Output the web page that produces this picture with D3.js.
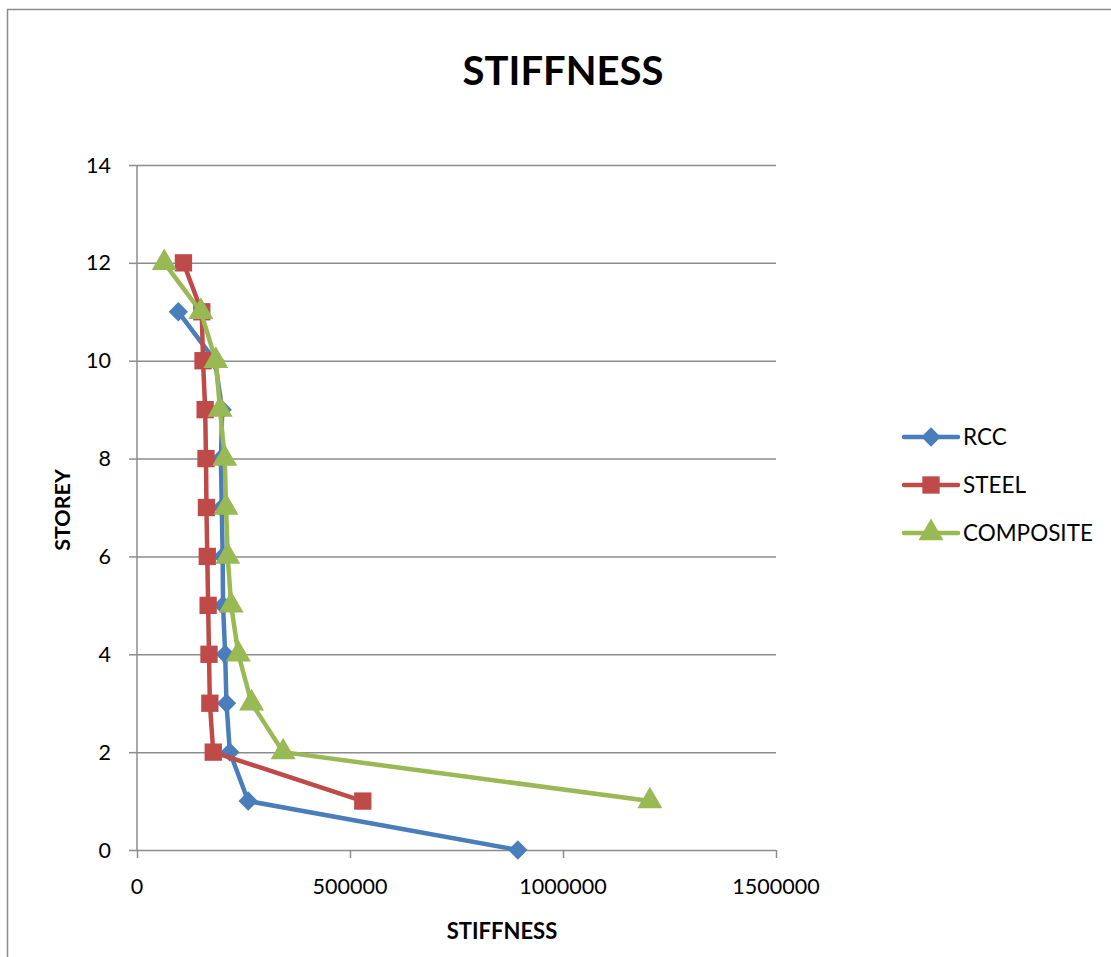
<!DOCTYPE html>
<html>
<head>
  <meta charset='utf-8'>
  <style>
  body { margin: 0; background: #fff; }
  text { font-family: Lato, 'Open Sans', sans-serif; fill: #000; }
  .grid line { stroke: #8c8c8c; stroke-width: 1.5px; }
  .line { fill: none; stroke-width: 4.5px; stroke-linejoin: round; }
  </style>
</head>
<body>
<script src='https://d3js.org/d3.v7.min.js'></script>
<script>

var SERIES = ['RCC', 'STEEL', 'COMPOSITE'];
var COLORS = ['#4a7ebb', '#be4b48', '#98b954'];

var rccStorey = [0, 1, 2, 3, 4, 5, 6, 7, 8, 9, 10, 11];
var rccStiff = [894000, 261000, 218000, 210000, 207000, 202000, 201000, 199000, 197000, 200000, 183000, 97000];

var steelStorey = [1, 2, 3, 4, 5, 6, 7, 8, 9, 10, 11, 12];
var steelStiff = [530000, 179000, 171000, 169000, 167000, 165000, 163000, 162000, 160000, 155000, 152000, 109000];

var compStorey = [1, 2, 3, 4, 5, 6, 7, 8, 9, 10, 11, 12];
var compStiff = [1204000, 343000, 269000, 238000, 221000, 213000, 209000, 206000, 195000, 185000, 150000, 64000];

var xTicks = [0, 500000, 1000000, 1500000];
var yTicks = [0, 2, 4, 6, 8, 10, 12, 14];

var SVG_WIDTH = 1111;
var SVG_HEIGHT = 957;

var svg = d3.select('body').append('svg')
    .attr('width', SVG_WIDTH)
    .attr('height', SVG_HEIGHT);

svg.append('rect')
    .attr('x', 7.5).attr('y', 9.5)
    .attr('width', 1200).attr('height', 1000)
    .attr('fill', '#fff')
    .attr('stroke', '#8c8c8c')
    .attr('stroke-width', 1.5);

var margin = {top: 165, left: 137},
    width = 639,
    height = 685;

var g = svg.append('g').attr('transform', 'translate(' + margin.left + ',' + margin.top + ')');

var x = d3.scaleLinear().domain([0, 1500000]).range([0, width]);
var y = d3.scaleLinear().domain([0, 14]).range([height, 0]);

// horizontal gridlines with small ticks on the left
g.append('g')
    .attr('class', 'grid')
    .call(d3.axisLeft(y).tickValues(yTicks).tickSize(-width).tickFormat(''))
    .call(function(a) { a.select('.domain').remove(); });

g.append('g')
    .attr('class', 'grid')
    .call(d3.axisLeft(y).tickValues(yTicks).tickSize(8).tickFormat(''))
    .call(function(a) { a.select('.domain').remove(); });

g.append('line')
    .attr('x1', 0).attr('x2', 0).attr('y1', 0).attr('y2', height)
    .attr('stroke', '#8c8c8c').attr('stroke-width', 1.5);

g.append('g')
    .attr('class', 'grid')
    .attr('transform', 'translate(0,' + height + ')')
    .call(d3.axisBottom(x).tickValues(xTicks).tickSize(8).tickFormat(''))
    .call(function(a) { a.select('.domain').remove(); });

g.selectAll('.ylab')
    .data(yTicks)
  .enter().append('text')
    .attr('class', 'ylab')
    .attr('x', -26)
    .attr('y', function(d) { return y(d); })
    .attr('dy', '0.35em')
    .attr('text-anchor', 'end')
    .style('font-size', '21.5px')
    .text(function(d) { return d; });

g.selectAll('.xlab')
    .data(xTicks)
  .enter().append('text')
    .attr('class', 'xlab')
    .attr('x', function(d) { return x(d); })
    .attr('y', height + 44)
    .attr('text-anchor', 'middle')
    .style('font-size', '21.5px')
    .text(function(d) { return d; });

svg.append('text')
    .attr('x', 563).attr('y', 85)
    .attr('text-anchor', 'middle')
    .style('font-size', '40px').style('font-weight', 'bold')
    .text('STIFFNESS');

svg.append('text')
    .attr('x', 502).attr('y', 939)
    .attr('text-anchor', 'middle')
    .style('font-size', '22px').style('font-weight', 'bold')
    .text('STIFFNESS');

svg.append('text')
    .attr('transform', 'translate(70,510) rotate(-90)')
    .attr('text-anchor', 'middle')
    .style('font-size', '21.5px').style('font-weight', 'bold')
    .text('STOREY');

var data = [
  d3.zip(rccStiff, rccStorey),
  d3.zip(steelStiff, steelStorey),
  d3.zip(compStiff, compStorey)
];

var line = d3.line()
    .x(function(d) { return x(d[0]); })
    .y(function(d) { return y(d[1]); });

var symbols = [
  d3.symbol().type(d3.symbolDiamond2).size(240),
  d3.symbol().type(d3.symbolSquare).size(300),
  d3.symbol().type(d3.symbolTriangle).size(270)
];

data.forEach(function(pts, i) {
  var sg = g.append('g');
  sg.append('path')
      .datum(pts)
      .attr('class', 'line')
      .attr('stroke', COLORS[i])
      .attr('d', line);
  sg.selectAll('.pt')
      .data(pts)
    .enter().append('path')
      .attr('transform', function(d) { return 'translate(' + x(d[0]) + ',' + y(d[1]) + ')'; })
      .attr('fill', COLORS[i])
      .attr('d', symbols[i]);
});

// legend
var legend = svg.append('g').attr('transform', 'translate(904,437)');
SERIES.forEach(function(name, i) {
  var lg = legend.append('g').attr('transform', 'translate(0,' + (i * 48) + ')');
  lg.append('line')
      .attr('x1', 0).attr('x2', 54)
      .attr('stroke', COLORS[i]).attr('stroke-width', 4.5).attr('stroke-linecap', 'round');
  lg.append('path')
      .attr('transform', 'translate(27,0)')
      .attr('fill', COLORS[i])
      .attr('d', symbols[i]);
  lg.append('text')
      .attr('x', 59)
      .attr('dy', '0.35em')
      .style('font-size', '22.5px')
      .text(name);
});

</script>
</body>
</html>
